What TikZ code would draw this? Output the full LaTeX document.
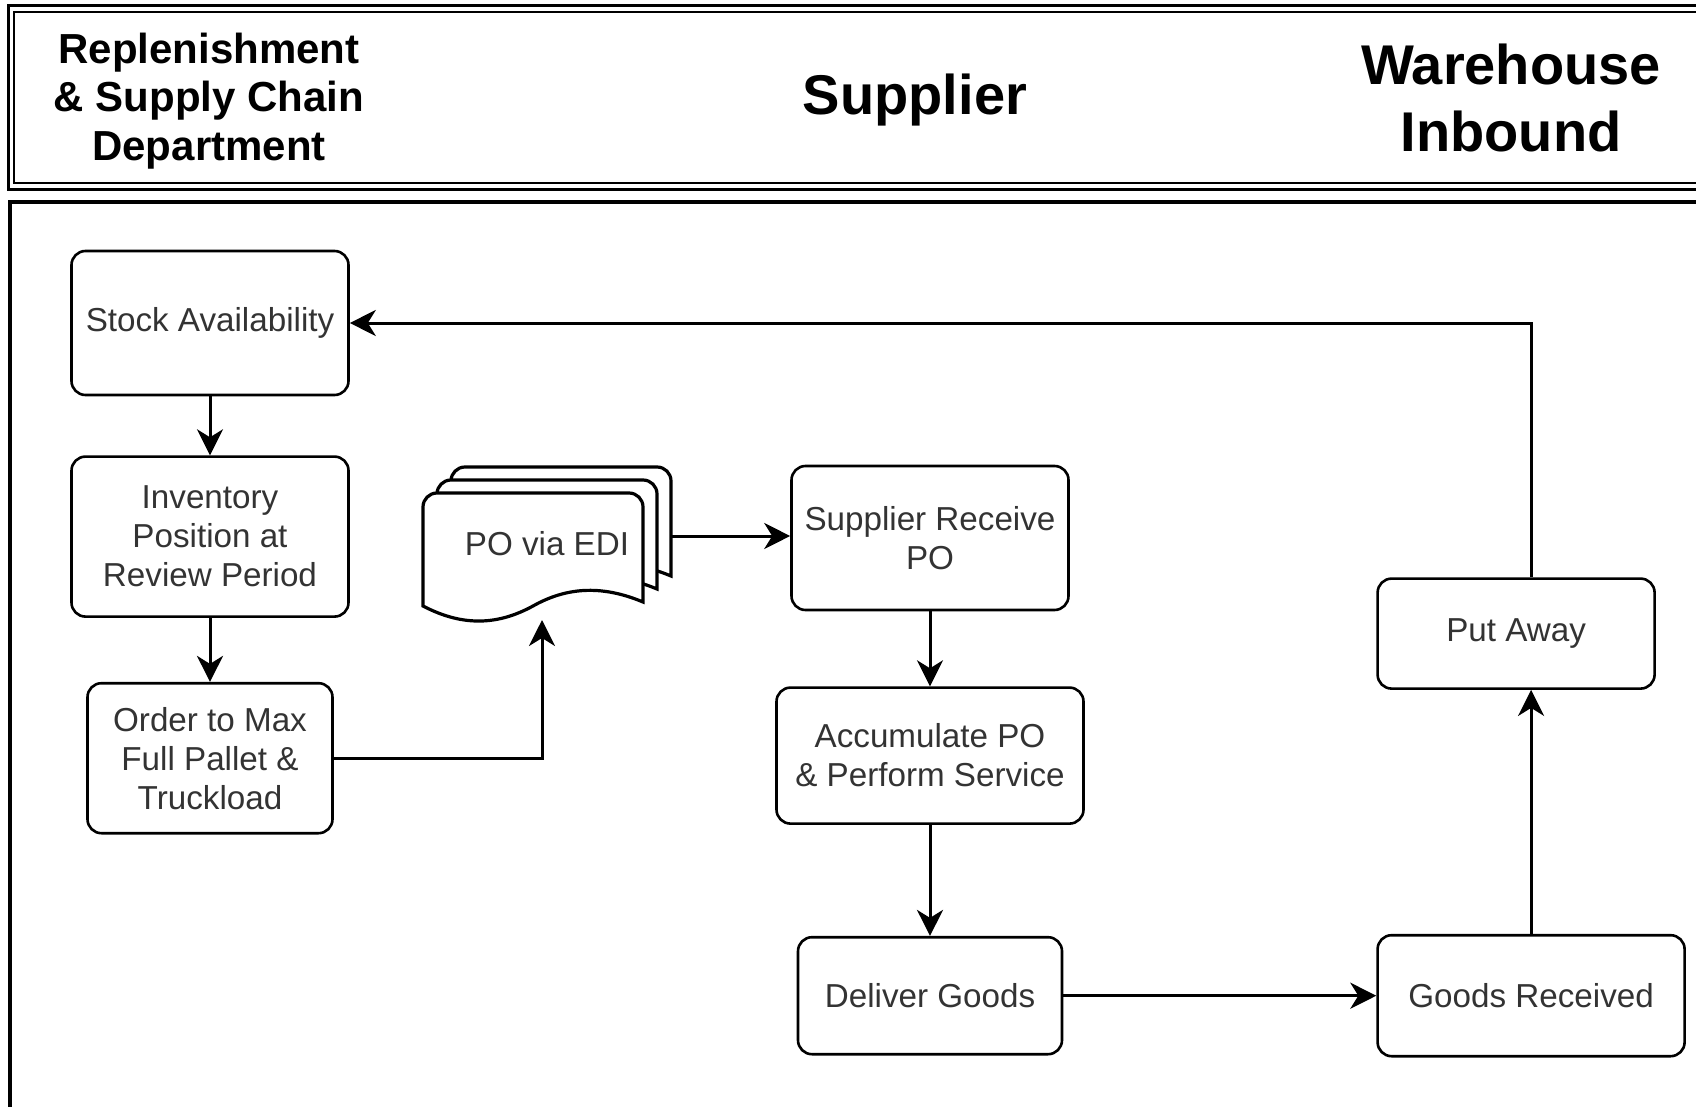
\documentclass[tikz,border=0pt]{standalone}
\usepackage{fontspec}
\setmainfont{Liberation Sans}
\usepackage{tikz}
\usetikzlibrary{positioning,arrows.meta}
\tikzset{node distance=30pt,
  proc/.style={draw, line width=1.3pt, rounded corners=7pt, align=center,
    text=black!80, inner sep=2pt, font=\fontsize{16.6}{19.5}\selectfont},
  flow/.style={-{Stealth[length=13pt,width=13pt,inset=4pt]}, line width=1.5pt},
  lane/.style={align=center, font=\bfseries\fontsize{21}{24.3}\selectfont},
  bigl/.style={align=center, font=\bfseries\fontsize{28}{33.5}\selectfont},
  page/.style={line width=1.6pt, fill=white}
}

\begin{document}
\begin{tikzpicture}[x=0.5pt,y=-0.5pt]
  \useasboundingbox (0,0) rectangle (1696,1107);

  % header and lane frame
  \draw[line width=1.5pt] (8.5,5.5) rectangle (1720,189.5);
  \draw[line width=1pt] (14,12) rectangle (1720,183.5);
  \draw[line width=1.6pt] (10,1130) -- (10,202) -- (1720,202);

  \node (rep) [lane] at (209,101) {Replenishment\\\& Supply Chain\\Department};
  \node (sup) [bigl] at (915,100) {Supplier};
  \node (wh) [bigl] at (1511,98) {Warehouse\\Inbound};

  % replenishment
  \node (stock) [proc, minimum width=138.5pt, minimum height=72pt] at (210,323) {Stock Availability};
  \node (inventory) [proc, below=29.5pt of stock, minimum width=138.5pt, minimum height=80pt] {Inventory\\Position at\\Review Period};
  \node (order) [proc, below=32pt of inventory, minimum width=122.5pt, minimum height=75pt] {Order to Max\\Full Pallet \&\\Truckload};

  % PO via EDI
  \foreach \dx/\dy in {28/-26, 14/-13, 0/0} {
    \draw[page, shift={(\dx,\dy)}] (423,606) [rounded corners=7pt] -- (423,493) -- (643,493)
      [sharp corners] -- (643,602) .. controls (600,584) and (565,588) .. (533,606)
      .. controls (500,624) and (465,628) .. (423,606) -- cycle;
  }
  \node (edi) [text=black!80, font=\fontsize{16.6}{19.5}\selectfont] at (547,544) {PO via EDI};
  \coordinate (edibot) at (542,620);
  \coordinate (ediright) at (672,536);

  % supplier
  \node (receive) [proc, minimum width=138.5pt, minimum height=72pt] at (930,538) {Supplier Receive\\PO};
  \node (accumulate) [proc, below=37.5pt of receive, minimum width=153.5pt, minimum height=68pt] {Accumulate PO\\\& Perform Service};
  \node (deliver) [proc, below=55.5pt of accumulate, minimum width=132pt, minimum height=58.5pt] {Deliver Goods};

  % warehouse
  \node (goodsrec) [proc, right=156.5pt of deliver, minimum width=153.5pt, minimum height=60.5pt] {Goods Received};
  \node (putaway) [proc, above=122pt of goodsrec.north west, anchor=south west, minimum width=138.5pt, minimum height=55pt] {Put Away};

  \draw[flow] (stock) -- (inventory);
  \draw[flow] (inventory) -- (order);
  \draw[flow] (order.east) -| (edibot);
  \draw[flow] (ediright) -- (ediright -| receive.west);
  \draw[flow] (receive) -- (accumulate);
  \draw[flow] (accumulate) -- (deliver);
  \draw[flow] (deliver) -- (goodsrec);
  \draw[flow] (goodsrec.north) -- (goodsrec.north |- putaway.south);
  \draw[flow] (goodsrec.north |- putaway.north) |- (stock.east);
\end{tikzpicture}
\end{document}
